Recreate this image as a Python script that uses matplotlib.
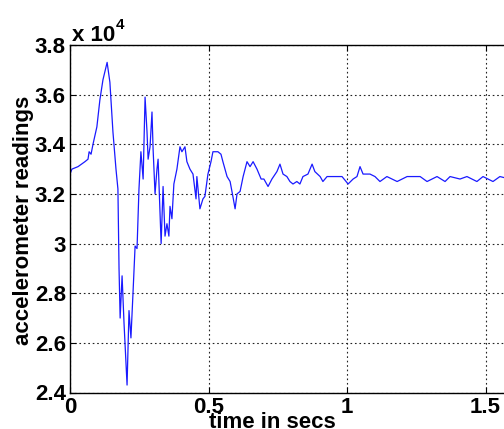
import matplotlib
matplotlib.use("Agg")
import matplotlib.pyplot as plt
from matplotlib.ticker import FuncFormatter

# time (s) and raw accelerometer readings
time_s = [0.000, 0.007, 0.029, 0.054, 0.065, 0.069, 0.076, 0.083, 0.097, 0.108,
          0.119, 0.134, 0.144, 0.155, 0.166, 0.173, 0.177, 0.181, 0.188, 0.195,
          0.206, 0.213, 0.220, 0.227, 0.235, 0.242, 0.249, 0.256, 0.264, 0.271,
          0.278, 0.282, 0.289, 0.296, 0.300, 0.307, 0.314, 0.318, 0.329, 0.336,
          0.343, 0.350, 0.357, 0.361, 0.368, 0.375, 0.386, 0.397, 0.404, 0.415,
          0.422, 0.433, 0.444, 0.455, 0.458, 0.469, 0.480, 0.487, 0.498, 0.509,
          0.516, 0.523, 0.534, 0.545, 0.552, 0.567, 0.578, 0.588, 0.596, 0.603,
          0.614, 0.625, 0.639, 0.650, 0.661, 0.675, 0.690, 0.700, 0.715, 0.729,
          0.747, 0.758, 0.769, 0.783, 0.794, 0.805, 0.819, 0.830, 0.841, 0.859,
          0.874, 0.884, 0.903, 0.913, 0.928, 0.946, 0.964, 0.982, 1.004, 1.022,
          1.036, 1.047, 1.058, 1.083, 1.101, 1.119, 1.144, 1.181, 1.217, 1.264,
          1.289, 1.325, 1.354, 1.372, 1.408, 1.433, 1.469, 1.491, 1.527, 1.552,
          1.588]
readings = [32800, 33000, 33100, 33300, 33400, 33700, 33600, 34000, 34700, 35800,
            36600, 37300, 36500, 34500, 33000, 32200, 29000, 27000, 28700, 26800,
            24300, 27300, 26200, 27900, 29900, 29800, 32200, 33700, 32600, 35900,
            34500, 33400, 33900, 35300, 33800, 32000, 33000, 33400, 30000, 32300,
            30300, 30800, 30300, 31500, 31000, 32400, 33000, 33900, 33700, 33900,
            33300, 33000, 32800, 31800, 32700, 31400, 31800, 31900, 32800, 33300,
            33700, 33700, 33700, 33600, 33300, 32700, 32500, 31900, 31400, 32000,
            32100, 32700, 33300, 33100, 33300, 33000, 32600, 32600, 32300, 32600,
            32900, 33200, 32800, 32700, 32500, 32400, 32500, 32400, 32700, 32800,
            33200, 32900, 32700, 32500, 32700, 32700, 32700, 32700, 32400, 32600,
            32700, 33100, 32800, 32800, 32700, 32500, 32700, 32500, 32700, 32700,
            32500, 32700, 32500, 32700, 32600, 32700, 32500, 32700, 32500, 32700,
            32600]
yticks = [24000, 26000, 28000, 30000, 32000, 34000, 36000, 38000]
xticks = [0, 0.5, 1, 1.5]

plt.rcParams['font.family'] = ['Liberation Sans', 'DejaVu Sans']
plt.rcParams['font.weight'] = 'bold'
plt.rcParams['font.size'] = 16

fig = plt.figure(figsize=(5.04, 4.29), dpi=100)
# axes runs past the right edge, as in the cropped original
ax = fig.add_axes([70 / 504, 36.5 / 429, 554 / 504, 347.5 / 429])

ax.plot(time_s, readings, color='#1a1aff', lw=0.9)

ax.set_xlim(0, 2)
ax.set_ylim(24000, 38000)
ax.set_xticks(xticks)
ax.set_yticks(yticks)
ax.xaxis.set_major_formatter(FuncFormatter(lambda v, p: '%g' % v))
ax.yaxis.set_major_formatter(FuncFormatter(lambda v, p: '%g' % (v / 1e4)))
ax.tick_params(direction='in', length=4, width=0.8, top=True, right=True,
               labelsize=16, pad=3)
ax.grid(True, color='#222222', linestyle=(0, (1.5, 2.5)), lw=0.8)
for s in ax.spines.values():
    s.set_linewidth(1.0)

ax.text(0.003, 1.012, 'x 10', transform=ax.transAxes, fontsize=16,
        fontweight='bold', ha='left', va='baseline')
ax.text(0.082, 1.045, '4', transform=ax.transAxes, fontsize=11,
        fontweight='bold', ha='left', va='baseline')

fig.text(272 / 504, 1.5 / 429, 'time in secs', ha='center', va='baseline',
         fontsize=16, fontweight='bold')
fig.text(24 / 504, 1 - 220 / 429, 'accelerometer readings', rotation=90,
         ha='center', va='center', fontsize=16, fontweight='bold')

fig.savefig('out.png', dpi=100)
